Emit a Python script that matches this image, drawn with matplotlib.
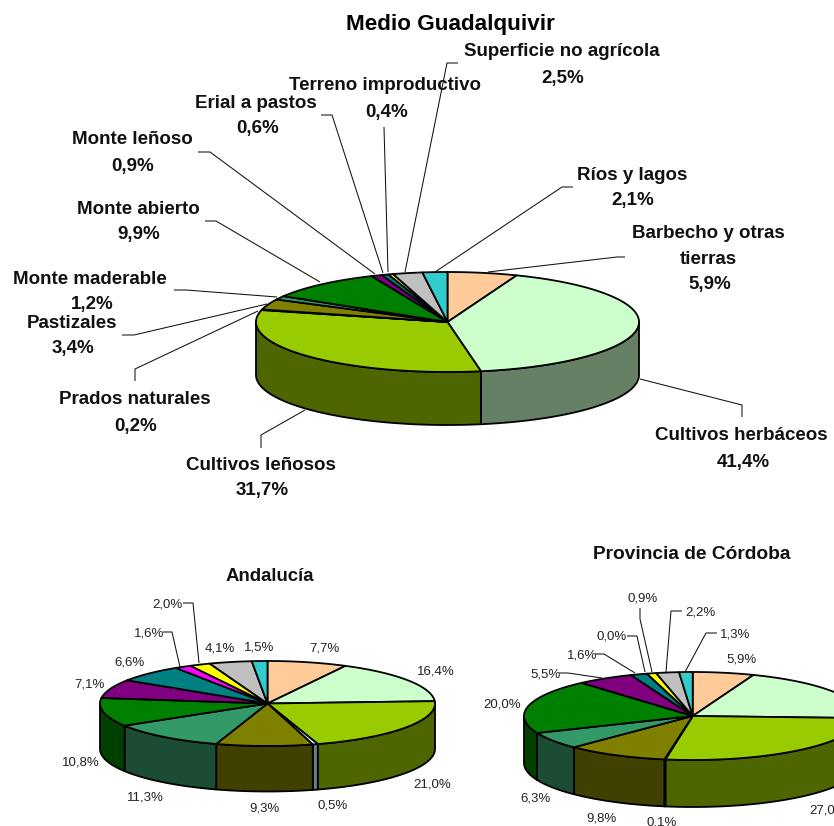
import numpy as np
import matplotlib
matplotlib.use("Agg")
import matplotlib.pyplot as plt

plt.rcParams['font.family'] = ['Liberation Sans', 'DejaVu Sans']

# ---- data ----
main_names = ["Barbecho y otras\ntierras", "Cultivos herbáceos", "Cultivos leñosos", "Prados naturales",
              "Pastizales", "Monte maderable", "Monte abierto", "Monte leñoso", "Erial a pastos",
              "Terreno improductivo", "Superficie no agrícola", "Ríos y lagos"]
main_values = [5.9, 41.4, 31.7, 0.2, 3.4, 1.2, 9.9, 0.9, 0.6, 0.4, 2.5, 2.1]
andalucia_values = [7.7, 16.4, 21.0, 0.5, 9.3, 11.3, 10.8, 7.1, 6.6, 1.6, 2.0, 4.1, 1.5]
cordoba_values = [5.9, 20.0, 27.0, 0.1, 9.8, 6.3, 20.0, 5.5, 1.6, 0.0, 0.9, 2.2, 1.3]

peach, ltgreen, lime, pale, olive, sea, green = "#FFCC99", "#CCFFCC", "#99CC00", "#CCFFFF", "#808000", "#339966", "#008000"
purple, teal, magenta, yellow, silver, turq = "#800080", "#008080", "#FF00FF", "#FFFF00", "#C0C0C0", "#33CCCC"
main_colors = [peach, ltgreen, lime, pale, olive, sea, green, purple, teal, yellow, silver, turq]
full_colors = [peach, ltgreen, lime, pale, olive, sea, green, purple, teal, magenta, yellow, silver, turq]

# ---- layout (pixels) ----
W, H = 834, 826
fig = plt.figure(figsize=(W / 100, H / 100), dpi=100)
ax = fig.add_axes([0, 0, 1, 1])
ax.set_xlim(0, W)
ax.set_ylim(H, 0)
ax.axis("off")

EDGE = 1.3


def arc(cx, cy, rx, ry, a0, a1):
    n = max(2, int(abs(a1 - a0) / 0.01) + 2)
    t = np.linspace(a0, a1, n)
    return cx + rx * np.sin(t), cy - ry * np.cos(t)


def darker(c):
    r, g, b = matplotlib.colors.to_rgb(c)
    return (r * 0.5, g * 0.5, b * 0.5)


def pie3d(values, colors, cx, cy, rx, ry, depth, z=2):
    v = np.asarray(values, float)
    edges = np.concatenate([[0], np.cumsum(v)]) / v.sum() * 2 * np.pi
    # visible side wall: front half only
    for c, a0, a1 in zip(colors, edges[:-1], edges[1:]):
        lo, hi = max(a0, np.pi / 2), min(a1, 3 * np.pi / 2)
        if hi > lo:
            x, y = arc(cx, cy, rx, ry, lo, hi)
            px = np.concatenate([x, x[::-1]])
            py = np.concatenate([y, y[::-1] + depth])
            ax.fill(px, py, facecolor=darker(c), edgecolor="black", lw=EDGE, joinstyle="round", zorder=z)
    # top face
    for c, a0, a1 in zip(colors, edges[:-1], edges[1:]):
        x, y = arc(cx, cy, rx, ry, a0, a1)
        ax.fill(np.r_[cx, x], np.r_[cy, y], facecolor=c, edgecolor="black", lw=EDGE, joinstyle="round", zorder=z + 1)


def leader(pts):
    xs, ys = zip(*pts)
    ax.plot(xs, ys, color="#111111", lw=0.75, zorder=5, solid_capstyle="butt")


def bold(x, y, s, size=13.5):
    ax.text(x, y + 6.5, s, fontsize=size, fontweight="bold", ha="center", va="baseline", color="#111111", zorder=6)


def small(x, y, s, ha="center"):
    ax.text(x, y + 4.5, s, fontsize=9.5, ha=ha, va="baseline", color="#222222", zorder=6)


pie3d(main_values, main_colors, 447.5, 322, 191.5, 50, 53)
pie3d(andalucia_values, full_colors, 267.5, 703.5, 167.5, 42.5, 45.5)
pie3d(cordoba_values, full_colors, 692.7, 716, 168.7, 44, 47)

# titles
ax.text(450, 30, "Medio Guadalquivir", fontsize=16.2, fontweight="bold", ha="center", va="baseline", color="black")
ax.text(270, 581, "Andalucía", fontsize=13.4, fontweight="bold", ha="center", va="baseline", color="#111111")
ax.text(692, 559, "Provincia de Córdoba", fontsize=13.8, fontweight="bold", ha="center", va="baseline", color="#111111")

# main labels: name centre, value centre
main_pos = [(708, 231, 710, 283), (741, 434, 743, 461), (261, 464, 262, 489), (135, 397, 136, 424),
            (72, 322, 73, 347), (90, 277, 92, 303), (138, 207, 139, 233), (132, 138, 133, 164),
            (256, 101, 258, 127), (385, 83, 387, 110), (562, 50, 563, 76), (632, 173, 633, 199)]
for name, val, (nx, ny, vx, vy) in zip(main_names, main_values, main_pos):
    lines = name.split("\n")
    for i, line in enumerate(lines):
        bold(nx, ny + 26 * i, line)
    bold(vx, vy, f"{val:.1f}".replace(".", ",") + "%")

main_leaders = [
    [(625, 257), (617, 257), (488, 272)],
    [(742, 417), (742, 405), (640, 379)],
    [(261, 448), (261, 435), (305, 410)],
    [(135, 381), (135, 369), (258, 311)],
    [(122, 335), (134, 335), (267, 304)],
    [(174, 290), (186, 290), (277, 297)],
    [(205, 221), (216, 221), (320, 282)],
    [(198, 152), (210, 152), (375, 274)],
    [(321, 115), (332, 115), (383, 273)],
    [(384, 127), (388, 272)],
    [(458, 63), (447, 63), (405, 272)],
    [(573, 187), (562, 187), (435, 272)],
]
for pts in main_leaders:
    leader(pts)

# Andalucía labels
and_pos = [(324, 647), (436, 670), (432, 783), (333, 804), (265, 807), (145, 796), (81, 761),
           (90, 683), (130, 661), (149, 632), (167, 603), (220, 647), (259, 646)]
for val, (x, y) in zip(andalucia_values, and_pos):
    small(x, y, f"{val:.1f}".replace(".", ",") + "%")
leader([(183, 603), (193, 603), (199, 663)])
leader([(163, 632), (172, 632), (180, 667)])

# Córdoba labels (the herbaceous one falls outside the picture)
cor_pos = [(742, 658), None, (809, 809), (662, 821), (602, 817), (536, 797), (502, 703),
           (546, 673), (582, 654), (612, 635), (643, 597), (700, 611), (735, 633)]
for val, pos in zip(cordoba_values, cor_pos):
    if pos is None:
        continue
    txt = f"{val:.1f}".replace(".", ",") + "%"
    if val == 27.0:
        small(pos[0], pos[1], txt, ha="left")
    else:
        small(pos[0], pos[1], txt)
leader([(640, 608), (640, 619), (652, 672)])
leader([(682, 611), (671, 611), (666, 672)])
leader([(717, 633), (706, 633), (685, 672)])
leader([(627, 636), (637, 636), (645, 672)])
leader([(595, 654), (604, 654), (635, 673)])
leader([(559, 673), (568, 673), (602, 678)])

fig.savefig("out.png", dpi=100, facecolor="white")
